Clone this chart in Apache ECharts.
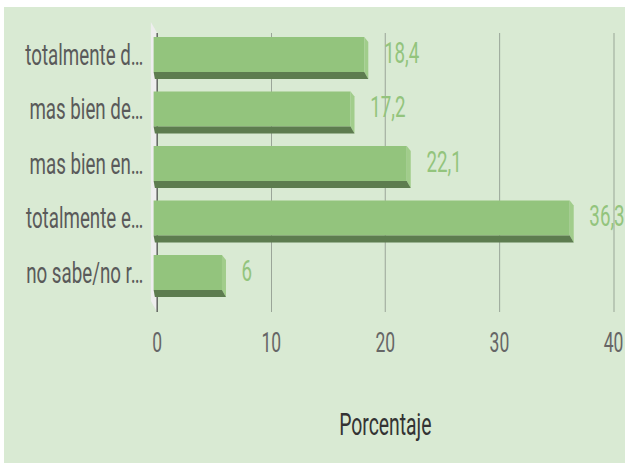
<!DOCTYPE html>
<html>
<head>
<meta charset="utf-8">
<script src="https://cdn.jsdelivr.net/npm/echarts@6/dist/echarts.min.js"></script>
<style>
  html, body { margin: 0; padding: 0; background: #ffffff; }
  /* the reference is squeezed sideways, so draw wide and scale x down */
  #chart {
    position: absolute;
    left: 4px;
    top: 7px;
    width: 994px;
    height: 456px;
    transform: scaleX(0.625);
    transform-origin: 0 0;
  }
</style>
</head>
<body>
<div id="chart"></div>
<script>
const categories = ['totalmente d…', 'mas bien de…', 'mas bien en…', 'totalmente e…', 'no sabe/no r…']
const values = [18.4, 17.2, 22.1, 36.3, 6]
const xTicks = [0, 10, 20, 30, 40]

const font = 'Roboto'
const barFront = '#93c47d'
const barSide = '#a1cd8b'
const barBottom = '#5d7c4f'

let myChart = echarts.init(document.getElementById('chart'), null, { renderer: 'svg' })

myChart.setOption({
  backgroundColor: '#d9ead3',
  animation: false,
  grid: [
    { left: 245, right: 14.5, top: 26, bottom: 151 },
    { left: 245, right: 14.5, top: 20.25, bottom: 163.25 },
  ],
  xAxis: [
    {
      gridIndex: 0,
      type: 'value',
      min: xTicks[0],
      max: xTicks[xTicks.length - 1],
      interval: 10,
      axisLine: { show: false },
      axisTick: { show: false },
      splitLine: {
        show: true,
        lineStyle: { color: ['#222222', '#9aa598', '#9aa598', '#9aa598', '#9aa598'], width: 1.6 },
      },
      axisLabel: {
        color: '#666666',
        fontFamily: font,
        fontSize: 28,
        margin: 16,
      },
      name: 'Porcentaje',
      nameLocation: 'middle',
      nameGap: 97,
      nameTextStyle: {
        color: '#333333',
        fontFamily: font,
        fontSize: 31,
      },
    },
    {
      gridIndex: 1,
      type: 'value',
      min: xTicks[0],
      max: xTicks[xTicks.length - 1],
      show: false,
    },
  ],
  yAxis: [
    { gridIndex: 0, type: 'value', show: false },
    {
      gridIndex: 1,
      type: 'category',
      data: categories,
      inverse: true,
      axisLine: { show: false },
      axisTick: { show: false },
      splitLine: { show: false },
      axisLabel: {
        color: '#5a5a5a',
        fontFamily: font,
        fontSize: 30,
        margin: 22,
      },
    },
  ],
  graphic: [
    {
      // light side wall of the 3d plot
      type: 'polygon',
      z: 0,
      shape: { points: [[235, 15], [245, 26], [245, 305], [235, 294]] },
      style: { fill: '#eeeeee' },
    },
  ],
  series: [
    {
      type: 'custom',
      xAxisIndex: 1,
      yAxisIndex: 1,
      z: 5,
      data: values.map((v, i) => [i, v]),
      encode: { x: 1, y: 0 },
      renderItem: function (params, api) {
        let idx = api.value(0)
        let val = api.value(1)
        let start = api.coord([0, idx])
        let end = api.coord([val, idx])
        let band = api.size([0, 1])[1]
        let cy = end[1]
        let h = band * 0.642
        let dep = band * 0.128
        let top = cy - h / 2
        let bot = cy + h / 2
        let x0 = start[0] - 5.6
        let xe = end[0]
        let xf = xe - 6.4
        return {
          type: 'group',
          children: [
            {
              type: 'rect',
              shape: { x: x0, y: top, width: xf - x0, height: h },
              style: { fill: barFront },
            },
            {
              type: 'polygon',
              shape: { points: [[xf, top], [xe, top + 5], [xe, bot + dep], [xf, bot]] },
              style: { fill: barSide },
            },
            {
              type: 'polygon',
              shape: { points: [[x0, bot], [xf, bot], [xe, bot + dep], [x0 + 2, bot + dep]] },
              style: { fill: barBottom },
            },
            {
              type: 'text',
              x: xe + 25,
              y: cy - 2,
              style: {
                text: String(val).replace('.', ','),
                fill: barFront,
                font: '30px ' + font,
                verticalAlign: 'middle',
                align: 'left',
              },
            },
          ],
        }
      },
    },
  ],
})
</script>
</body>
</html>
